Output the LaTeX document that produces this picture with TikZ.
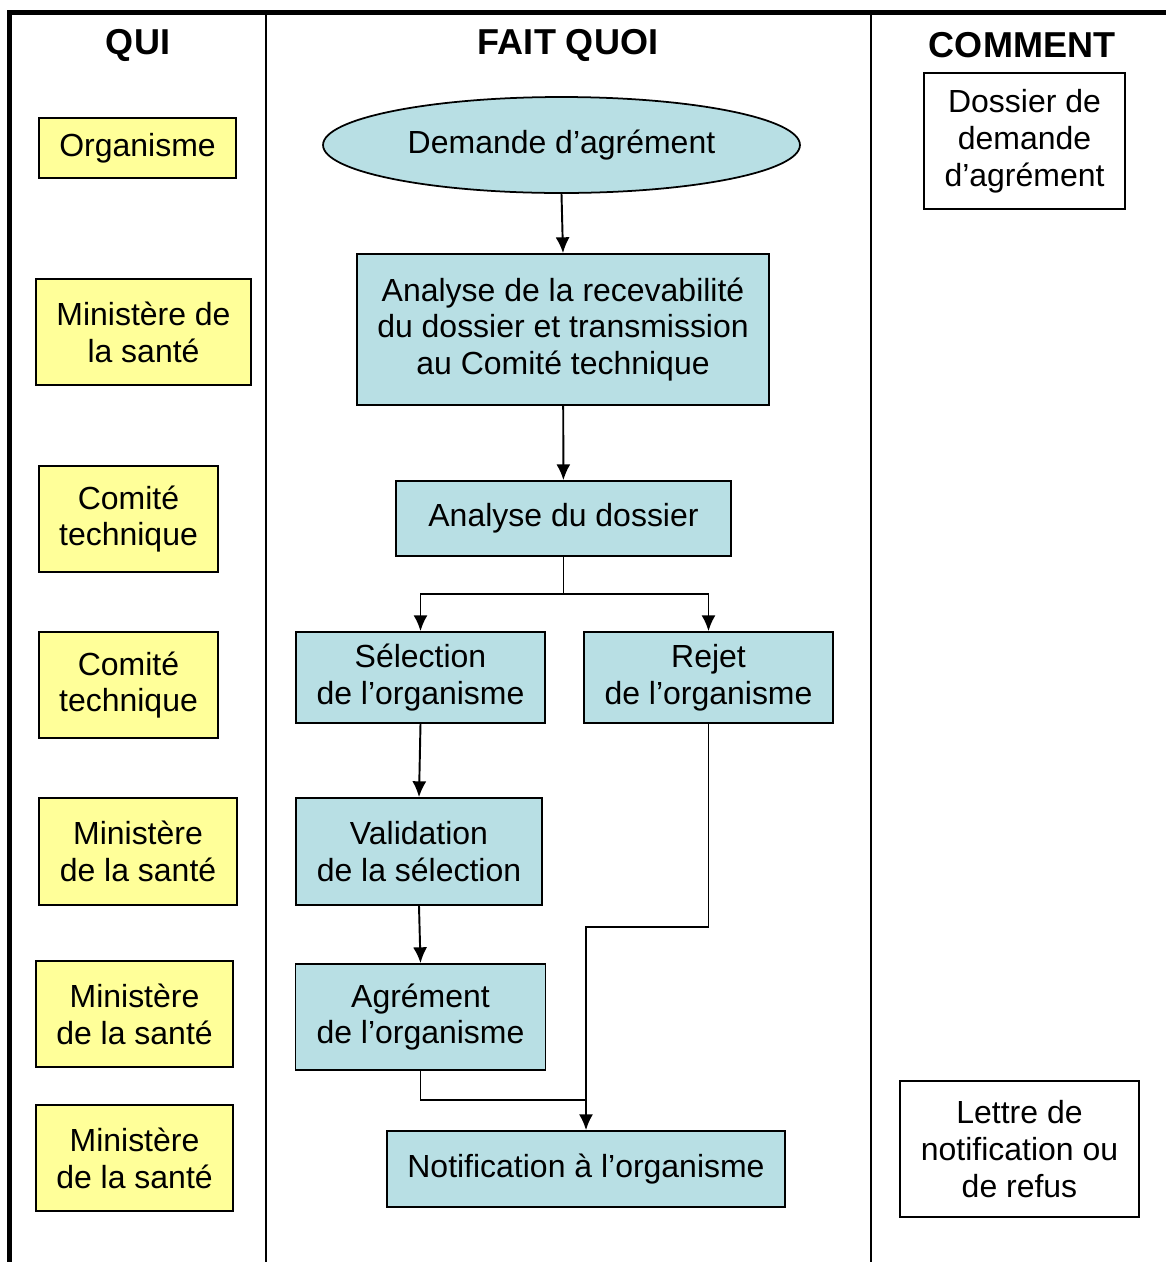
\documentclass[tikz,border=0pt]{standalone}
\usepackage{fontspec}
\setmainfont{Liberation Sans}
\usepackage{xcolor}
\usepackage{tikz}
\usetikzlibrary{positioning}
\usetikzlibrary{arrows.meta}
\usetikzlibrary{shapes.geometric}
\definecolor{quijaune}{RGB}{255,255,153}
\definecolor{etapebleu}{RGB}{184,223,228}
\tikzset{edge/.style = {->,> = {Latex[length=9pt,width=8pt]}, line width=1.1pt}}

\begin{document}
\begin{tikzpicture}[x=0.02cm,y=-0.02cm,
  entete/.style={font=\bfseries\fontsize{20.5}{24}\selectfont},
  qui node/.style={rectangle,draw,fill=quijaune,line width=1pt,align=center,inner sep=2pt,font=\fontsize{18.2}{21}\selectfont},
  etape node/.style={rectangle,draw,fill=etapebleu,line width=1pt,align=center,inner sep=2pt,font=\fontsize{18.2}{21}\selectfont},
  doc node/.style={rectangle,draw,fill=white,line width=1pt,align=center,inner sep=2pt,font=\fontsize{18.2}{21}\selectfont}]
    \useasboundingbox (0,0) rectangle (1166,1262);

    % cadre et colonnes
    \draw[line width=1.2pt] (266,13) -- (266,1262);
    \draw[line width=1.2pt] (871,13) -- (871,1262);
    \draw[line width=2.8pt] (9.5,1262) -- (9.5,12.5) -- (1166,12.5);

    \node[entete] (qui) at (138,45) {QUI};
    \node[entete] (faitquoi) at (568,45) {FAIT QUOI};
    \node[entete] (comment) at (1022,45) {COMMENT};

    % qui
    \node[qui node,minimum width=3.94cm,minimum height=1.2cm] (organisme) at (137.5,148) {Organisme};
    \node[qui node,minimum width=4.3cm,minimum height=2.12cm] (ministere1) at (143.5,332) {Ministère de\\la santé};
    \node[qui node,minimum width=3.58cm,minimum height=2.12cm] (comite1) at (128.5,519) {Comité\\technique};
    \node[qui node,minimum width=3.58cm,minimum height=2.12cm] (comite2) at (128.5,685) {Comité\\technique};
    \node[qui node,minimum width=3.96cm,minimum height=2.14cm] (ministere2) at (138,851.5) {Ministère\\de la santé};
    \node[qui node,minimum width=3.94cm,minimum height=2.12cm] (ministere3) at (134.5,1014) {Ministère\\de la santé};
    \node[qui node,minimum width=3.94cm,minimum height=2.12cm] (ministere4) at (134.5,1158) {Ministère\\de la santé};

    % fait quoi
    \node[etape node,ellipse,minimum width=9.54cm,minimum height=1.92cm] (demande) at (561.5,145) {Demande d’agrément};
    \node[etape node,minimum width=8.24cm,minimum height=3.02cm] (recevabilite) at (563,329.5) {Analyse de la recevabilité\\du dossier et transmission\\au Comité technique};
    \node[etape node,minimum width=6.7cm,minimum height=1.5cm] (dossier) at (563.5,518.5) {Analyse du dossier};
    \node[etape node,minimum width=4.98cm,minimum height=1.82cm] (selection) at (420.5,677.5) {Sélection\\de l’organisme};
    \node[etape node,minimum width=4.98cm,minimum height=1.82cm] (rejet) at (708.5,677.5) {Rejet\\de l’organisme};
    \node[etape node,minimum width=4.92cm,minimum height=2.14cm] (validation) at (419,851.5) {Validation\\de la sélection};
    \node[etape node,minimum width=5cm,minimum height=2.12cm] (agrement) at (420.5,1017) {Agrément\\de l’organisme};
    \node[etape node,minimum width=7.96cm,minimum height=1.52cm] (notification) at (586,1169) {Notification à l’organisme};

    % comment
    \node[doc node,minimum width=4.02cm,minimum height=2.72cm] (dossierdemande) at (1024.5,141) {Dossier de\\demande\\d’agrément};
    \node[doc node,minimum width=4.78cm,minimum height=2.72cm] (lettre) at (1019.5,1149) {Lettre de\\notification ou\\de refus};

    \coordinate (fourche) at (563.5,594);
    \coordinate (coude) at (586,927);
    \coordinate (jonction) at (586,1100);

    \path[edge] (demande.south) edge (recevabilite.north);
    \path[edge] (recevabilite) edge (dossier);
    \draw[line width=1.1pt] (dossier) -- (fourche);
    \draw[edge] (fourche) -| (selection);
    \draw[edge] (fourche) -| (rejet);
    \path[edge] (selection.south) edge (validation.north);
    \path[edge] (validation.south) edge (agrement.north);
    \draw[edge] (rejet) |- (coude) -- (notification);
    \draw[line width=1.1pt] (agrement) |- (jonction);
\end{tikzpicture}
\end{document}
